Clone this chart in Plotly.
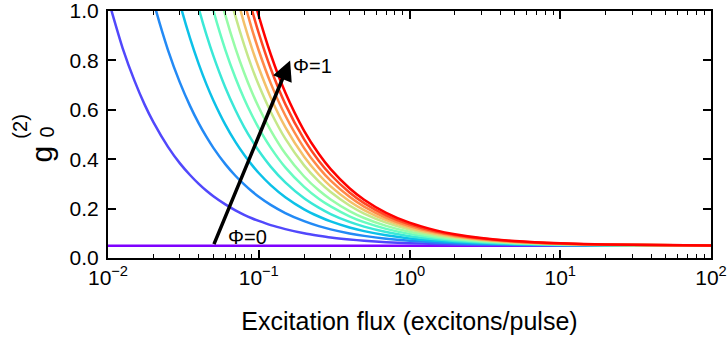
import plotly.graph_objects as go

# Excitation flux grid (excitons/pulse)
flux = [0.01, 0.0125, 0.015, 0.0175, 0.02, 0.025, 0.03, 0.035, 0.04, 0.045, 0.05,
        0.06, 0.07, 0.08, 0.09, 0.1, 0.12, 0.15, 0.2, 0.25, 0.3, 0.4, 0.5, 0.7,
        1, 1.5, 2, 3, 5, 10, 20, 100]

N = None
g_phi_00 = [0.05] * 32
g_phi_01 = [1.050, 0.850, 0.717, 0.621, 0.550, 0.450, 0.383, 0.336, 0.300, 0.272, 0.250,
            0.217, 0.193, 0.175, 0.161, 0.150, 0.133, 0.117, 0.100, 0.090, 0.083, 0.075,
            0.070, 0.064, 0.060, 0.057, 0.055, 0.053, 0.052, 0.051, 0.0505, 0.0501]
g_phi_02 = [N, N, N, 1.181, 1.040, 0.842, 0.710, 0.616, 0.545, 0.490, 0.446,
            0.380, 0.333, 0.298, 0.270, 0.248, 0.215, 0.182, 0.149, 0.129, 0.116, 0.0995,
            0.0896, 0.0783, 0.0698, 0.0632, 0.0599, 0.0566, 0.054, 0.052, 0.051, 0.0502]
g_phi_03 = [N, N, N, N, N, 1.226, 1.030, 0.890, 0.785, 0.703, 0.638,
            0.540, 0.470, 0.418, 0.377, 0.344, 0.295, 0.246, 0.197, 0.168, 0.148, 0.1235,
            0.1088, 0.092, 0.0794, 0.0696, 0.0647, 0.0598, 0.0559, 0.0529, 0.0515, 0.0503]
g_phi_04 = [N, N, N, N, N, N, N, 1.147, 1.010, 0.903, 0.818,
            0.690, 0.599, 0.530, 0.477, 0.434, 0.370, 0.306, 0.242, 0.204, 0.178, 0.146,
            0.127, 0.105, 0.0884, 0.0756, 0.0692, 0.0628, 0.0577, 0.0538, 0.0519, 0.0504]
g_phi_05 = [N, N, N, N, N, N, N, N, N, 1.108, 1.002,
            0.843, 0.730, 0.645, 0.579, 0.526, 0.447, 0.367, 0.288, 0.240, 0.209, 0.169,
            0.145, 0.118, 0.0976, 0.0817, 0.0738, 0.0659, 0.0595, 0.0548, 0.0524, 0.0505]
g_phi_06 = [N, N, N, N, N, N, N, N, N, N, 1.170,
            0.983, 0.850, 0.750, 0.672, 0.610, 0.517, 0.423, 0.330, 0.274, 0.237, 0.190,
            0.162, 0.130, 0.106, 0.0873, 0.078, 0.0687, 0.0612, 0.0556, 0.0528, 0.0506]
g_phi_07 = [N, N, N, N, N, N, N, N, N, N, N,
            1.133, 0.979, 0.863, 0.772, 0.700, 0.592, 0.483, 0.375, 0.310, 0.267, 0.2125,
            0.180, 0.143, 0.115, 0.0933, 0.0825, 0.0717, 0.063, 0.0565, 0.0533, 0.0507]
g_phi_08 = [N, N, N, N, N, N, N, N, N, N, N,
            N, 1.079, 0.950, 0.850, 0.770, 0.650, 0.530, 0.410, 0.338, 0.290, 0.230,
            0.194, 0.153, 0.122, 0.098, 0.086, 0.074, 0.0644, 0.0572, 0.0536, 0.0507]
g_phi_09 = [N, N, N, N, N, N, N, N, N, N, N,
            N, N, 1.038, 0.928, 0.840, 0.708, 0.577, 0.445, 0.366, 0.313, 0.2475,
            0.208, 0.163, 0.129, 0.1027, 0.0895, 0.0763, 0.0658, 0.0579, 0.054, 0.0508]
g_phi_10 = [N, N, N, N, N, N, N, N, N, N, N,
            N, N, 1.125, 1.006, 0.910, 0.767, 0.623, 0.480, 0.394, 0.337, 0.265,
            0.222, 0.173, 0.136, 0.107, 0.093, 0.0787, 0.0672, 0.0586, 0.0543, 0.0509]
g_phi_11 = [N, N, N, N, N, N, N, N, N, N, N,
            N, N, N, 1.083, 0.980, 0.825, 0.670, 0.515, 0.422, 0.360, 0.2825,
            0.236, 0.183, 0.143, 0.112, 0.0965, 0.081, 0.0686, 0.0593, 0.0547, 0.0509]

series = [g_phi_00, g_phi_01, g_phi_02, g_phi_03, g_phi_04, g_phi_05,
          g_phi_06, g_phi_07, g_phi_08, g_phi_09, g_phi_10, g_phi_11]
colors = ["#7f00ff", "#5148fc", "#238af5", "#0cc1e8", "#3ae8d7", "#68fcc1",
          "#97fca7", "#c5e88a", "#f3c16a", "#ff8a48", "#ff4824", "#ff0000"]

x_tick_vals = [0.01, 0.1, 1, 10, 100]
x_tick_text = ["10<sup>−2</sup>", "10<sup>−1</sup>", "10<sup>0</sup>",
               "10<sup>1</sup>", "10<sup>2</sup>"]
x_minor_vals = [m * d for d in [0.01, 0.1, 1, 10] for m in range(2, 10)]
y_tick_vals = [0.0, 0.2, 0.4, 0.6, 0.8, 1.0]
y_tick_text = ["0.0", "0.2", "0.4", "0.6", "0.8", "1.0"]

FONT = "Liberation Sans, Arial, sans-serif"

fig = go.Figure()
for ys, c in zip(series, colors):
    fig.add_trace(go.Scatter(x=flux, y=ys, mode="lines",
                             line=dict(color=c, width=2.5, shape="spline", smoothing=0.6),
                             showlegend=False, hoverinfo="skip"))

L, R, T, B = 107.5, 711.5, 11, 258
def px(xp):
    return (xp - L) / (R - L)
def py(yp):
    return (B - yp) / (B - T)

fig.update_layout(
    width=727, height=341,
    margin=dict(l=107.5, r=727 - 711.5, t=11, b=341 - 258, autoexpand=False),
    plot_bgcolor="white", paper_bgcolor="white",
    font=dict(family=FONT, color="black", size=20),
    xaxis=dict(type="log", range=[-2, 2], tickmode="array", tickvals=x_tick_vals,
               ticktext=x_tick_text, automargin=False, ticklabeloverflow="allow",
               showgrid=False, zeroline=False, showline=True, linecolor="black",
               linewidth=2, mirror="allticks", ticks="inside", ticklen=8, tickwidth=1.5,
               tickcolor="black", tickfont=dict(size=21),
               minor=dict(tickmode="array", tickvals=x_minor_vals, ticks="inside",
                          ticklen=4, tickwidth=1, tickcolor="black", showgrid=False),
               title=dict(text="Excitation flux (excitons/pulse)",
                          font=dict(size=25), standoff=24)),
    yaxis=dict(range=[0, 1], tickmode="array", tickvals=y_tick_vals, ticktext=y_tick_text,
               automargin=False, ticklabeloverflow="allow",
               showgrid=False, zeroline=False, showline=True, linecolor="black",
               linewidth=2, mirror="allticks", ticks="inside", ticklen=8, tickwidth=1.5,
               tickcolor="black", tickfont=dict(size=21), ticklabelstandoff=3),
)

# arrow from Phi=0 to Phi=1
fig.add_annotation(x=-0.792, y=0.80, ax=-1.301, ay=0.05, xref="x", yref="y",
                   axref="x", ayref="y", showarrow=True, arrowhead=2, arrowsize=1.15,
                   arrowwidth=3.5, arrowcolor="black", text="")
fig.add_annotation(x=-0.785, y=0.777, xref="x", yref="y", text="Φ=1", showarrow=False,
                   xanchor="left", yanchor="middle", font=dict(size=20))
fig.add_annotation(x=-1.215, y=0.087, xref="x", yref="y", text="Φ=0", showarrow=False,
                   xanchor="left", yanchor="middle", font=dict(size=20))

# y axis title g_0^(2)
fig.add_annotation(x=px(40), y=py(154), xref="paper", yref="paper", text="g",
                   textangle=-90, showarrow=False, font=dict(size=30),
                   xanchor="center", yanchor="middle")
fig.add_annotation(x=px(46), y=py(132), xref="paper", yref="paper", text="0",
                   textangle=-90, showarrow=False, font=dict(size=20),
                   xanchor="center", yanchor="middle")
fig.add_annotation(x=px(19), y=py(127), xref="paper", yref="paper", text="(2)",
                   textangle=-90, showarrow=False, font=dict(size=20),
                   xanchor="center", yanchor="middle")

fig.write_html("out.html")
